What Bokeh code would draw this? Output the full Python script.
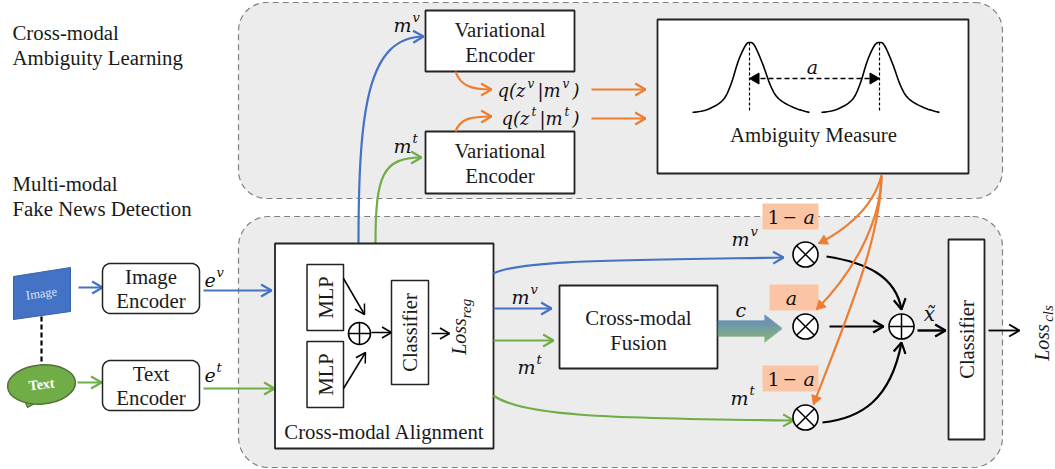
import math
from bokeh.plotting import figure
from bokeh.core.properties import value
from bokeh.embed import file_html
from bokeh.resources import INLINE

# ---- content ----
captions = ["Cross-modal", "Ambiguity Learning", "Multi-modal", "Fake News Detection"]
encoder_labels = [["Image", "Encoder"], ["Text", "Encoder"]]
variational_labels = ["Variational", "Encoder"]
fusion_labels = ["Cross-modal", "Fusion"]
alignment_label = "Cross-modal Alignment"
measure_label = "Ambiguity Measure"
classifier_label = "Classifier"
mlp_label = "MLP"
weight_labels = ["1 \u2212", "a", "1 \u2212"]
curve_left = [(692, 112), (707, 109), (722, 100), (730, 85), (738, 60), (745, 45), (749, 42),
              (754, 45), (762, 63), (770, 85), (778, 98), (793, 107), (809, 112)]
curve_right = [(821, 112), (836, 109), (851, 100), (859, 85), (867, 60), (874, 45), (879, 42),
               (884, 45), (892, 63), (900, 85), (908, 98), (923, 107), (939, 112)]

BLUE, GREEN, ORANGE, BLACK = "#4472c4", "#70ad47", "#ed7d31", "#000000"
SERIF = "Liberation Serif"
MATH = "DejaVu Serif"

p = figure(width=1055, height=469, x_range=(0, 1055), y_range=(469, 0), tools="",
           toolbar_location=None, output_backend="svg", min_border=0,
           x_axis_location=None, y_axis_location=None)
p.grid.visible = False
p.outline_line_color = None


def T(x, y, s, size=20.8, angle=0, align="center", style="normal", color="#1a1a1a", font=SERIF):
    p.text([x], [y], text=[s], text_font=value(font), text_font_size=f"{size}px",
           text_font_style=style, text_color=color, text_align=align,
           text_baseline="middle", angle=angle)


def M(x, y, s, size=19, align="left", style="italic"):
    T(x, y, s, size, align=align, style=style, font=MATH, color="#111111")


def rounded(x0, y0, x1, y1, r):
    xs, ys = [], []
    for cx, cy, a0 in [(x1 - r, y0 + r, -90), (x1 - r, y1 - r, 0), (x0 + r, y1 - r, 90), (x0 + r, y0 + r, 180)]:
        for k in range(13):
            a = math.radians(a0 + k * 7.5)
            xs.append(cx + r * math.cos(a))
            ys.append(cy + r * math.sin(a))
    return xs, ys


def panel(x0, y0, x1, y1, r):
    xs, ys = rounded(x0, y0, x1, y1, r)
    p.patch(xs, ys, fill_color="#ececec", line_color="#808080", line_width=1.2, line_dash="6 4")


def rbox(x0, y0, x1, y1, r=8):
    xs, ys = rounded(x0, y0, x1, y1, r)
    p.patch(xs, ys, fill_color="white", line_color="#222222", line_width=1.5)


def box(x0, y0, x1, y1, lw=1.8):
    p.quad(left=[x0], right=[x1], top=[y0], bottom=[y1], fill_color="white", line_color="#222222", line_width=lw)


def head(xt, yt, ang, color, size=11, open_=True, lw=2):
    a1, a2 = ang + math.radians(150), ang - math.radians(150)
    x1, y1 = xt + size * math.cos(a1), yt + size * math.sin(a1)
    x2, y2 = xt + size * math.cos(a2), yt + size * math.sin(a2)
    if open_:
        p.line([x1, xt, x2], [y1, yt, y2], line_color=color, line_width=lw)
    else:
        p.patch([x1, xt, x2], [y1, yt, y2], fill_color=color, line_color=color)


def arrow(x0, y0, x1, y1, color, lw=2.2, size=12, open_=True):
    p.line([x0, x1], [y0, y1], line_color=color, line_width=lw)
    head(x1, y1, math.atan2(y1 - y0, x1 - x0), color, size, open_, max(lw, 1.5))


def curve(a, c0, c1, b, color, lw=2.2, size=12, open_=True):
    p.bezier(x0=[a[0]], y0=[a[1]], x1=[b[0]], y1=[b[1]], cx0=[c0[0]], cy0=[c0[1]],
             cx1=[c1[0]], cy1=[c1[1]], line_color=color, line_width=lw)
    head(b[0], b[1], math.atan2(b[1] - c1[1], b[0] - c1[0]), color, size, open_, max(lw, 1.5))


def smooth(pts, **kw):
    xs, ys = [], []
    P = [pts[0]] + pts + [pts[-1]]
    for i in range(1, len(P) - 2):
        for k in range(8):
            t = k / 8
            for out, d in ((xs, 0), (ys, 1)):
                a, b, c, e = P[i - 1][d], P[i][d], P[i + 1][d], P[i + 2][d]
                out.append(0.5 * (2 * b + (c - a) * t + (2 * a - 5 * b + 4 * c - e) * t * t + (3 * b - a - 3 * c + e) * t ** 3))
    xs.append(pts[-1][0]); ys.append(pts[-1][1])
    p.line(xs, ys, **kw)


def sym(x, y, base, sup):
    M(x, y, base, 19)
    w = 19 if base == "m" else 12
    M(x + w, y - 7, sup, 13)


def circ(x, y, r, kind):
    p.ellipse([x], [y], width=2 * r, height=2 * r, fill_color="white", line_color=BLACK, line_width=1.6)
    if kind == "x":
        d = r * 0.707
        p.line([x - d, x + d], [y - d, y + d], line_color=BLACK, line_width=1.5)
        p.line([x - d, x + d], [y + d, y - d], line_color=BLACK, line_width=1.5)
    else:
        p.line([x - r, x + r], [y, y], line_color=BLACK, line_width=1.5)
        p.line([x, x], [y - r, y + r], line_color=BLACK, line_width=1.5)


# panels
panel(238, 2, 1002, 198, 28)
panel(238, 216, 1002, 467, 30)

# captions
T(12, 32, captions[0], align="left")
T(12, 57, captions[1], align="left")
T(12, 183, captions[2], align="left")
T(12, 208, captions[3], align="left")

# inputs
p.line([41, 41], [316, 368], line_color=BLACK, line_width=2.2, line_dash="5 3")
p.patch([13, 70, 70, 13], [276, 267, 311, 319], fill_color=BLUE, line_color="#3a62a8", line_width=1)
T(41, 293, "Image", 12.5, angle=0.14, color="#d9e4f5")
p.patch([24, 27, 40], [400, 407, 400], fill_color=GREEN, line_color="#55703c", line_width=1.2)
p.ellipse([41], [384], width=68, height=39, angle=0.08, fill_color=GREEN, line_color="#55703c", line_width=1.5)
T(41, 384, "Text", 14, angle=0.12, style="bold", color="white")
arrow(78, 287, 102, 287, BLUE)
arrow(77, 382, 101, 382, GREEN)

for (y0, y1), lab in zip([(263, 313), (360, 410)], encoder_labels):
    rbox(102, y0, 199, y1)
    T(150.5, y0 + 13, lab[0])
    T(150.5, y0 + 37, lab[1])
sym(204, 279, "e", "v")
sym(204, 374, "e", "t")
arrow(203, 290, 271, 290, BLUE)
arrow(203, 388, 274, 388, GREEN)

# alignment block
curve((358, 243), (358, 105), (368, 37), (423, 36), BLUE)
curve((375, 243), (375, 175), (382, 157), (421, 157), GREEN)
box(274.5, 243, 493, 448)
box(306.5, 264, 343, 330, 1.5)
box(306.5, 341, 343, 407, 1.5)
T(325, 297, mlp_label, 20.5, angle=math.pi / 2)
T(325, 374, mlp_label, 20.5, angle=math.pi / 2)
circ(359, 333, 11, "+")
arrow(343, 278, 364, 314, BLACK, lw=1.5, size=11)
arrow(343, 388, 365, 352, BLACK, lw=1.5, size=11)
arrow(371, 332, 391, 332, BLACK, lw=1.5, size=11)
box(391, 280, 428, 384, 1.5)
T(409, 332, classifier_label, 20.5, angle=math.pi / 2)
arrow(431, 333, 449, 333, BLACK, lw=1.5, size=11)
T(458, 336, "Loss", 20, angle=math.pi / 2, style="italic")
T(465, 308, "reg", 15, angle=math.pi / 2, style="italic")
T(384, 431, alignment_label)

# variational encoders
for y0, y1 in [(10, 71), (131, 193)]:
    box(425, y0, 574, y1)
    T(499.5, y0 + 19, variational_labels[0])
    T(499.5, y0 + 44, variational_labels[1])
sym(393, 24, "m", "v")
sym(393, 145, "m", "t")
curve((455, 71), (460, 85), (470, 89), (491, 89), ORANGE)
curve((455, 131), (460, 118), (470, 116), (491, 116), ORANGE)
M(497, 90, "q(z", 18)
M(527, 83, "v", 12)
M(537, 90, "|m", 18)
M(562, 83, "v", 12)
M(572, 90, ")", 18)
M(501, 118, "q(z", 18)
M(531, 111, "t", 12)
M(539, 118, "|m", 18)
M(564, 111, "t", 12)
M(572, 118, ")", 18)
arrow(591, 89, 645, 89, ORANGE)
arrow(591, 118, 645, 118, ORANGE)

# ambiguity measure
box(657, 19, 968, 173)
for pts in (curve_left, curve_right):
    smooth(pts, line_color=BLACK, line_width=1.6)
p.line([749, 749], [42, 112], line_color=BLACK, line_width=1.2, line_dash="3 2")
p.line([879, 879], [42, 112], line_color=BLACK, line_width=1.2, line_dash="3 2")
p.line([752, 876], [78, 78], line_color=BLACK, line_width=1.3, line_dash="5 3")
head(749, 78, math.pi, BLACK, 11, False)
head(879, 78, 0, BLACK, 11, False)
M(812, 66, "a", 19, align="center")
T(813, 134, measure_label)

# fusion
arrow(493, 308, 551, 308, BLUE)
arrow(493, 340, 553, 340, GREEN)
box(559, 285, 717, 368)
T(638, 317, fusion_labels[0])
T(638, 342, fusion_labels[1])
sym(511, 296, "m", "v")
sym(517, 366, "m", "t")
M(735, 309, "c", 19)

# gradient arrow, drawn as one-pixel rows
ROWS = 28
for i in range(ROWS):
    y = 314 + i
    t = i / (ROWS - 1)
    col = "#%02x%02x%02x" % (int(55 + t * 45), int(105 + t * 55), int(185 - t * 105))
    half = abs(y + 0.5 - 328)
    right = 782 - half * (18 / 14)
    left = 717 if 320 <= y < 336 else 764
    if right > left:
        p.quad(left=[left], right=[right], top=[y], bottom=[y + 1], fill_color=col, line_color=None)

# weights
for (x0, y0, y1), lab in zip([(762, 203, 229), (769, 284, 310), (762, 365, 391)], weight_labels):
    p.quad(left=[x0], right=[818], top=[y0], bottom=[y1], fill_color="#fbc5a5", line_color=None)
    if lab == "a":
        M(791, (y0 + y1) / 2 + 0, "a", 19, align="center")
    else:
        M(767, (y0 + y1) / 2, "1", 19, style="normal")
        M(782, (y0 + y1) / 2, "\u2212", 17, style="normal")
        M(803, (y0 + y1) / 2, "a", 19)
sym(731, 238, "m", "v")
sym(730, 397, "m", "t")

# long connectors
curve((493, 273), (520, 260), (600, 260), (783, 257), BLUE)
curve((493, 395), (520, 415), (600, 418), (793, 420), GREEN)
for y in (254, 326, 417):
    circ(805, y, 12.5, "x")
circ(901, 326, 12.5, "+")
curve((826, 256), (865, 262), (895, 275), (901, 309), BLACK, lw=2.2)
arrow(829, 326, 883, 326, BLACK)
curve((822, 422), (860, 418), (890, 400), (901, 342), BLACK, lw=2.2)
curve((881, 175), (872, 210), (840, 232), (818, 243), ORANGE, size=10, open_=False)
curve((881, 175), (880, 225), (850, 275), (816, 309), ORANGE, size=10, open_=False)
curve((881, 175), (880, 240), (845, 320), (813, 404), ORANGE, size=10, open_=False)

# output
M(929, 313, "x\u0303", 20, align="center")
arrow(917, 330, 945, 330, BLACK, lw=2.4)
box(948, 239, 984, 439)
T(966, 339, classifier_label, 20.5, angle=math.pi / 2)
arrow(988, 330, 1019, 330, BLACK, lw=1.8)
T(1041, 342, "Loss", 20, angle=math.pi / 2, style="italic")
T(1047, 313, "cls", 15, angle=math.pi / 2, style="italic")

open("out.html", "w").write(file_html(p, INLINE))
